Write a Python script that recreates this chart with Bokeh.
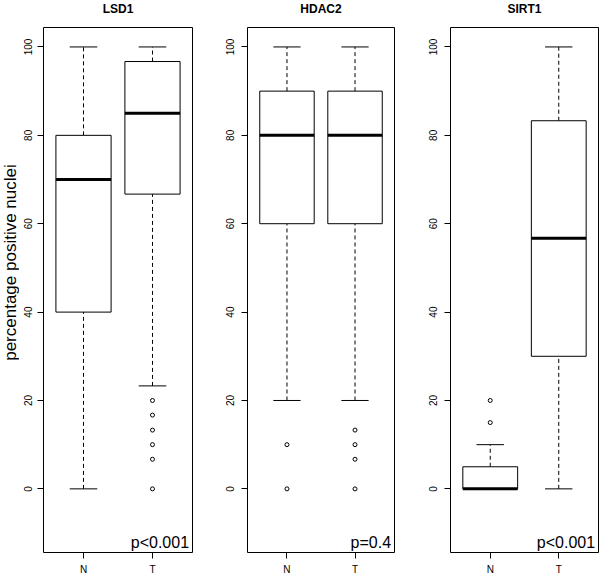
import math
from bokeh.plotting import figure
from bokeh.layouts import row, column
from bokeh.models import FixedTicker, Label, Range1d, ColumnDataSource
from bokeh.embed import file_html
from bokeh.resources import INLINE

# ---- data ----
titles = ["LSD1", "HDAC2", "SIRT1"]
p_values = ["p<0.001", "p=0.4", "p<0.001"]
groups = ["N", "T"]
positions = [1, 2]
lower_whisker = [[0, 23.3], [20, 20], [0, 0]]
q1 = [[40, 66.7], [60, 60], [0, 30]]
median = [[70, 85], [80, 80], [0, 56.7]]
q3 = [[80, 96.7], [90, 90], [5, 83.3]]
upper_whisker = [[100, 100], [100, 100], [10, 100]]
outliers = [
    [[], [20, 16.7, 13.3, 10, 6.7, 0]],
    [[10, 0], [13.3, 10, 6.7, 0]],
    [[20, 15], []],
]
y_ticks = [0, 20, 40, 60, 80, 100]
ylim = (-10, 100)
y_label = "percentage positive nuclei"

FONT = "Liberation Sans"
BOX_W = 0.8
CAP_W = 0.4

pad_y = 0.04 * (ylim[1] - ylim[0])
y_lo, y_hi = ylim[0] - pad_y, ylim[1] + pad_y
x_lo, x_hi = 0.5 - 0.04 * 2, 2.5 + 0.04 * 2

TITLE_H = 16
H = 577 - TITLE_H
TOP, BOTTOM = 27 - TITLE_H, 23
LAB_W = 19


def blank(w, h):
    f = figure(width=w, height=h, x_range=Range1d(0, w), y_range=Range1d(0, h),
               output_backend="svg", toolbar_location=None,
               x_axis_location=None, y_axis_location=None,
               min_border=0, min_border_left=0, min_border_right=0,
               min_border_top=0, min_border_bottom=0)
    f.grid.visible = False
    f.outline_line_color = None
    f.background_fill_color = "white"
    f.border_fill_color = "white"
    return f


# strip holding the panel titles
# (width, left border, right border) of each panel
sizes = [(200 - LAB_W, 43 - LAB_W, 8), (200, 47, 6), (200, 50, 2)]
strip = blank(600, TITLE_H)
x0 = LAB_W
for i in range(3):
    w, bl, br = sizes[i]
    cx = x0 + bl + (w - bl - br) / 2
    strip.add_layout(Label(x=cx, y=TITLE_H - 8, x_units="screen", y_units="screen",
                           text=titles[i], text_align="center", text_baseline="middle",
                           text_font=FONT, text_font_size="12px",
                           text_font_style="bold", text_color="black"))
    x0 += w

# narrow strip holding the shared y-axis title
lab = blank(LAB_W, H)
lab.add_layout(Label(x=LAB_W / 2, y=290, x_units="screen", y_units="screen",
                     text=y_label, angle=math.pi / 2,
                     text_align="center", text_baseline="middle",
                     text_font=FONT, text_font_size="17px", text_color="black"))

figs = [lab]
for i in range(3):
    w, bl, br = sizes[i]
    p = figure(width=w, height=H,
               x_range=Range1d(x_lo, x_hi),
               y_range=Range1d(y_lo, y_hi),
               output_backend="svg", toolbar_location=None,
               min_border_left=bl, min_border_right=br,
               min_border_top=TOP, min_border_bottom=BOTTOM)
    p.grid.visible = False
    p.outline_line_color = "black"
    p.outline_line_width = 1
    p.outline_line_alpha = 1
    p.background_fill_color = "white"
    p.border_fill_color = "white"

    ya = p.yaxis[0]
    ya.ticker = FixedTicker(ticks=y_ticks)
    ya.major_label_orientation = "vertical"
    ya.axis_line_color = None
    ya.major_tick_out = 6
    ya.major_tick_in = 0
    ya.minor_tick_line_color = None
    ya.major_label_standoff = 5 if i == 0 else 7
    ya.major_label_text_font = FONT
    ya.major_label_text_font_size = "10px"
    ya.major_label_text_color = "black"
    ya.major_tick_line_color = "black"

    xa = p.xaxis[0]
    xa.ticker = FixedTicker(ticks=positions)
    xa.major_label_overrides = {positions[k]: groups[k] for k in range(2)}
    xa.axis_line_color = None
    xa.major_tick_out = 6
    xa.major_tick_in = 0
    xa.minor_tick_line_color = None
    xa.major_label_standoff = 5
    xa.major_label_text_font = FONT
    xa.major_label_text_font_size = "10px"
    xa.major_label_text_color = "black"
    xa.major_tick_line_color = "black"

    src = ColumnDataSource(dict(
        x=positions,
        lo=lower_whisker[i], q1=q1[i], med=median[i], q3=q3[i], hi=upper_whisker[i],
        cap_l=[x - CAP_W / 2 for x in positions],
        cap_r=[x + CAP_W / 2 for x in positions],
        box_l=[x - BOX_W / 2 for x in positions],
        box_r=[x + BOX_W / 2 for x in positions],
    ))
    # whiskers
    p.segment(x0="x", x1="x", y0="q3", y1="hi", line_color="black",
              line_width=1, line_dash="4 3", source=src)
    p.segment(x0="x", x1="x", y0="lo", y1="q1", line_color="black",
              line_width=1, line_dash="4 3", source=src)
    # caps
    p.segment(x0="cap_l", x1="cap_r", y0="hi", y1="hi", line_color="black",
              line_width=1, source=src)
    p.segment(x0="cap_l", x1="cap_r", y0="lo", y1="lo", line_color="black",
              line_width=1, source=src)
    # boxes
    p.quad(left="box_l", right="box_r", bottom="q1", top="q3",
           fill_color="white", line_color="black", line_width=1, source=src)
    # medians
    p.segment(x0="box_l", x1="box_r", y0="med", y1="med", line_color="black",
              line_width=3, source=src)
    # outliers
    ox, oy = [], []
    for k in range(2):
        for v in outliers[i][k]:
            ox.append(positions[k])
            oy.append(v)
    if ox:
        p.scatter(x=ox, y=oy, marker="circle", size=4, fill_color=None,
                  line_color="black", line_width=1)

    # p-value annotation (bottom-right corner of the panel)
    p.add_layout(Label(x=x_hi - 0.05, y=y_lo + 0.4, text=p_values[i],
                       text_align="right", text_baseline="bottom",
                       text_font=FONT, text_font_size="16px", text_color="black"))
    figs.append(p)

layout = column(strip, row(*figs), spacing=0)

open("out.html", "w").write(file_html(layout, INLINE))
